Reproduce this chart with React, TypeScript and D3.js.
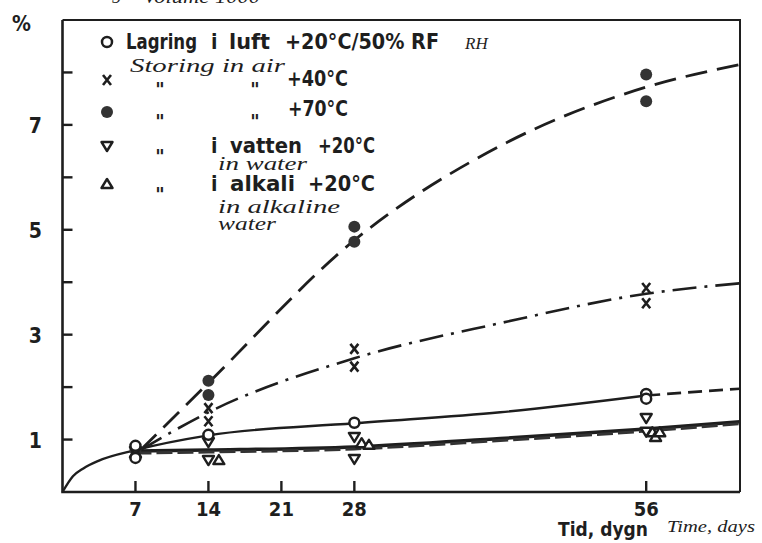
import React from "react";
import * as d3 from "d3";

// ---- data ----
const xTicks = [7, 14, 21, 28, 56];
const yTicks = [1, 2, 3, 4, 5, 6, 7, 8];
const yLabels = [1, 3, 5, 7];

// measured points
const airDays = [7, 7, 14, 28, 56, 56];
const airVals = [0.88, 0.65, 1.09, 1.32, 1.87, 1.78];
const c40Days = [14, 14, 28, 28, 56, 56];
const c40Vals = [1.6, 1.35, 2.73, 2.39, 3.89, 3.6];
const c70Days = [7, 14, 14, 28, 28, 56, 56];
const c70Vals = [0.8, 2.12, 1.85, 5.06, 4.77, 7.96, 7.45];
const waterDays = [7, 14, 14, 28, 28, 56, 56];
const waterVals = [0.78, 0.95, 0.61, 1.05, 0.63, 1.41, 1.15];
const alkaliDays = [7, 15, 28.7, 29.4, 56.6, 56.9, 57.3];
const alkaliVals = [0.74, 0.61, 0.93, 0.9, 1.14, 1.05, 1.14];

// fitted curves
const fitAir: [number, number][] = [[0, 0], [1, 0.3], [2, 0.45], [3.5, 0.6], [7, 0.8], [14, 1.08], [28, 1.31], [42, 1.52], [56, 1.84]];
const fitAirExt: [number, number][] = [[56, 1.84], [60, 1.9], [65, 1.97]];
const fit40: [number, number][] = [[7.5, 0.8], [14, 1.52], [28, 2.55], [42, 3.22], [56, 3.78], [65, 3.98]];
const fit70: [number, number][] = [[7.5, 0.8], [14, 2.08], [28, 4.8], [42, 6.6], [56, 7.72], [65, 8.15]];
const fitWater: [number, number][] = [[7, 0.78], [14, 0.8], [28, 0.86], [42, 1.02], [56, 1.2], [65, 1.34]];

const W = 762, H = 543;
const INK = "#1e1e1e";
const BOLD = "'Liberation Sans Narrow', 'DejaVu Sans Condensed', sans-serif";
const ITAL = "'Liberation Serif', 'DejaVu Serif', serif";

export default function App() {
  const x = d3.scaleLinear().domain([0, 65]).range([62.5, 740]);
  const y = d3.scaleLinear().domain([0, 9]).range([492, 20]);
  const line = d3.line<[number, number]>().x(d => x(d[0])).y(d => y(d[1])).curve(d3.curveMonotoneX);

  const openCircle = (cx: number, cy: number, k: string) => (
    <circle key={k} cx={cx} cy={cy} r={5} fill="white" stroke={INK} strokeWidth={2.5} />
  );
  const filled = (cx: number, cy: number, k: string) => (
    <circle key={k} cx={cx} cy={cy} r={6} fill="#333" />
  );
  const cross = (cx: number, cy: number, k: string) => (
    <path key={k} d={`M${cx - 4},${cy - 5}L${cx + 4},${cy + 5}M${cx + 4},${cy - 5}L${cx - 4},${cy + 5}`} stroke={INK} strokeWidth={2.6} />
  );
  const triDown = (cx: number, cy: number, k: string) => (
    <path key={k} d={`M${cx - 5.5},${cy - 4}L${cx + 5.5},${cy - 4}L${cx},${cy + 5}Z`} fill="white" stroke={INK} strokeWidth={2.4} strokeLinejoin="round" />
  );
  const triUp = (cx: number, cy: number, k: string) => (
    <path key={k} d={`M${cx - 5.5},${cy + 4}L${cx + 5.5},${cy + 4}L${cx},${cy - 5}Z`} fill="white" stroke={INK} strokeWidth={2.4} strokeLinejoin="round" />
  );

  const bold = (txt: string, px: number, py: number, w?: number, size = 21) => (
    <text x={px} y={py} fontFamily={BOLD} fontWeight="bold" fontSize={size} fill={INK}
      {...(w ? { textLength: w, lengthAdjust: "spacingAndGlyphs" } : {})}>{txt}</text>
  );
  const ital = (txt: string, px: number, py: number, w?: number, size = 19) => (
    <text x={px} y={py} fontFamily={ITAL} fontStyle="italic" fontSize={size} fill={INK}
      {...(w ? { textLength: w, lengthAdjust: "spacingAndGlyphs" } : {})}>{txt}</text>
  );
  const quote = (px: number, py: number) => (
    <text x={px} y={py} fontFamily={BOLD} fontWeight="bold" fontSize={20} fill={INK} textAnchor="middle">"</text>
  );

  return (
    <svg width={W} height={H} style={{ position: "absolute", left: 0, top: 0, background: "white" }}>
      {/* cut-off header */}
      {ital("5", 112, 3, undefined, 18)}
      {ital("Volume 1000", 143, 3, 117, 18)}

      {/* frame */}
      <path d={`M${x(0)},${y(9)}L${x(65)},${y(9)}L${x(65)},${y(0)}`} fill="none" stroke={INK} strokeWidth={2} />
      <path d={`M${x(0)},${y(9)}L${x(0)},${y(0)}L${x(65)},${y(0)}`} fill="none" stroke={INK} strokeWidth={2.6} />

      {/* y ticks */}
      {yTicks.map(t => (
        <line key={"yt" + t} x1={x(0)} x2={x(0) + 10} y1={y(t)} y2={y(t)} stroke={INK} strokeWidth={2.4} />
      ))}
      {yLabels.map(t => (
        <text key={"yl" + t} x={42} y={y(t) + 8} textAnchor="end" fontFamily={BOLD} fontWeight="bold" fontSize={21} fill={INK}>{t}</text>
      ))}
      {/* x ticks */}
      {xTicks.map(t => (
        <g key={"xt" + t}>
          <line x1={x(t)} x2={x(t)} y1={y(0)} y2={y(0) - 11} stroke={INK} strokeWidth={2.4} />
          <text x={x(t)} y={516} textAnchor="middle" fontFamily={BOLD} fontWeight="bold" fontSize={20} fill={INK}>{t}</text>
        </g>
      ))}
      <text x={12} y={31} fontFamily={BOLD} fontWeight="bold" fontSize={21} fill={INK}>%</text>
      {bold("Tid, dygn", 558, 536, 90, 20)}
      {ital("Time, days", 667, 532, 88, 17)}

      {/* curves */}
      <path d={line(fitAir) || ""} fill="none" stroke={INK} strokeWidth={2.4} />
      <path d={line(fitAirExt) || ""} fill="none" stroke={INK} strokeWidth={2.6} strokeDasharray="14,7" />
      <path d={line(fit40) || ""} fill="none" stroke={INK} strokeWidth={2.6} strokeDasharray="24,8,3,8" />
      <path d={line(fit70) || ""} fill="none" stroke={INK} strokeWidth={2.8} strokeDasharray="22,10" />
      <path d={line(fitWater) || ""} fill="none" stroke={INK} strokeWidth={3.5} />
      <path d={line(fitWater) || ""} transform="translate(0,2)" fill="none" stroke="#333" strokeWidth={3} strokeDasharray="16,5" />

      {/* markers */}
      {c70Days.map((d, i) => filled(x(d), y(c70Vals[i]), "f" + i))}
      {c40Days.map((d, i) => cross(x(d), y(c40Vals[i]), "c" + i))}
      {waterDays.map((d, i) => triDown(x(d), y(waterVals[i]), "w" + i))}
      {alkaliDays.map((d, i) => triUp(x(d), y(alkaliVals[i]), "a" + i))}
      {airDays.map((d, i) => openCircle(x(d), y(airVals[i]), "o" + i))}

      {/* legend */}
      {openCircle(107, 42, "lo")}
      {bold("Lagring", 126, 49, 71)}
      {bold("i", 211, 49)}
      {bold("luft", 229, 49, 41)}
      {bold("+20°C/50% RF", 285, 49, 154)}
      <text x={465} y={49} fontFamily="'Liberation Serif', serif" fontStyle="italic" fontSize={17} fill={INK}>RH</text>
      {ital("Storing in air", 130, 72, 155)}

      {cross(107, 80, "lc")}
      {quote(160, 96)}{quote(255, 96)}
      {bold("+40°C", 287, 86, 61)}

      {filled(107, 112, "lf")}
      {quote(160, 128)}{quote(255, 128)}
      {bold("+70°C", 288, 116, 60)}

      {triDown(107, 146, "lw")}
      {quote(160, 163)}
      {bold("i", 211, 153)}
      {bold("vatten", 230, 153, 72)}
      {bold("+20°C", 318, 153, 57)}
      {ital("in water", 218, 170, 89)}

      {triUp(107, 184, "la")}
      {quote(160, 201)}
      {bold("i", 211, 191)}
      {bold("alkali", 230, 191, 65)}
      {bold("+20°C", 308, 191, 67)}
      {ital("in alkaline", 218, 213, 122)}
      {ital("water", 218, 230, 58)}
    </svg>
  );
}
